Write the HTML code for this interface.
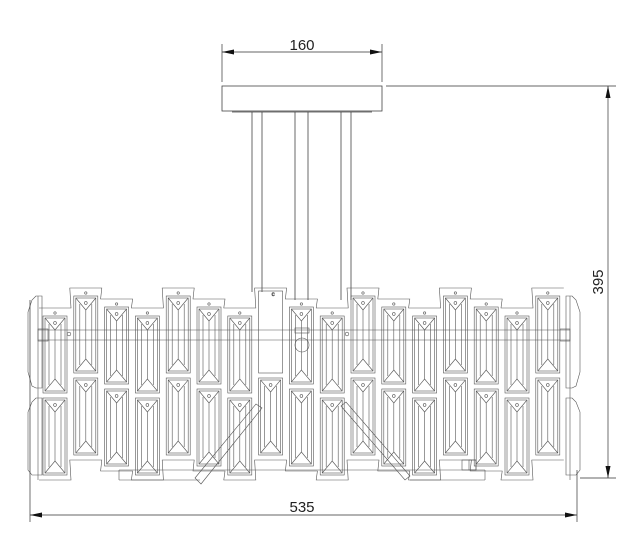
<!DOCTYPE html>
<html><head><meta charset="utf-8"><style>
html,body{margin:0;padding:0;background:#fff;width:626px;height:533px;overflow:hidden}
svg{display:block}
text{font-family:"Liberation Sans",sans-serif;font-size:15px;fill:#222}
</style></head><body>
<svg id="s" width="626" height="533" viewBox="0 0 626 533" xmlns="http://www.w3.org/2000/svg">
<g stroke="#444" stroke-width="0.8" fill="none">
<rect x="222" y="86" width="160" height="25"/>
<line x1="232" y1="112" x2="372" y2="112"/>
<line x1="252" y1="112" x2="252" y2="292"/><line x1="262" y1="112" x2="262" y2="292"/>
<line x1="295" y1="112" x2="295" y2="300"/><line x1="308" y1="112" x2="308" y2="300"/>
<line x1="341" y1="112" x2="341" y2="300"/><line x1="351" y1="112" x2="351" y2="300"/>
</g>
<g id="body" stroke="#555" stroke-width="0.6" fill="none"></g>
<g stroke="#333" stroke-width="0.7" fill="none">
<line x1="222" y1="44" x2="222" y2="82"/><line x1="382" y1="44" x2="382" y2="82"/>
<line x1="222" y1="52" x2="382" y2="52"/>
<line x1="386" y1="86" x2="616" y2="86"/><line x1="580" y1="478" x2="616" y2="478"/>
<line x1="608" y1="86" x2="608" y2="478"/>
<line x1="30" y1="300" x2="30" y2="522"/><line x1="577" y1="470" x2="577" y2="522"/>
<line x1="30" y1="515" x2="577" y2="515"/>
</g>
<g fill="#111">
<polygon points="222,52 234,49.5 234,54.5"/><polygon points="382,52 370,49.5 370,54.5"/>
<polygon points="608,86 605.5,98 610.5,98"/><polygon points="608,478 605.5,466 610.5,466"/>
<polygon points="30,515 42,512.5 42,517.5"/><polygon points="577,515 565,512.5 565,517.5"/>
</g>
<text x="302" y="50" text-anchor="middle">160</text>
<text x="302" y="512" text-anchor="middle">535</text>
<text transform="translate(603,282) rotate(-90)" text-anchor="middle">395</text>
</svg>
<script>
var g=document.getElementById('body'),h='';
function L(a,b,c,d){h+='<line x1="'+a+'" y1="'+b+'" x2="'+c+'" y2="'+d+'"/>';}
function R(x,y,w,hh){h+='<rect x="'+x+'" y="'+y+'" width="'+w+'" height="'+hh+'"/>';}
function crystal(l,t,w,hh,top){
 R(l,t,w,hh);R(l+2,t+2,w-4,hh-4);
 var cx=l+w/2,i=l+2,r=l+w-2,a=t+2,b=t+hh-2;
 L(i,a,cx,a+12);L(r,a,cx,a+12);L(i,b,cx,b-12);L(r,b,cx,b-12);
 L(cx,a+12,cx,b-12);L(i+4,a+6,i+4,b-6);L(r-4,a+6,r-4,b-6);
 h+='<circle cx="'+cx+'" cy="'+(a+5)+'" r="1.4"/>';
 if(top)h+='<circle cx="'+cx+'" cy="'+(t-3)+'" r="1.2"/>';
}
var tops=[316,296,307],pts1=[],pts2=[];
for(var k=0;k<17;k++){
 var cx=55+k*30.8,l=cx-12,t=tops[k%3];
 var tb=t+82;
 if(k==7){R(l,t-5,24,82);h+='<text x="'+(cx+1)+'" y="'+(t)+'" style="font-size:6px">c</text>';}
 else crystal(l,t,24,77,true);
 crystal(l,tb,24,77,false);
 pts1.push([l-4,t-8],[l+28,t-8]);
 pts2.push([l-4,tb+82],[l+28,tb+82]);
}
var s='M'+pts1[0][0]+','+(pts1[0][1]);for(var p of pts1){s+=' L'+p[0]+','+p[1];}
h+='<path d="'+s+'"/>';
s='M'+pts2[0][0]+','+pts2[0][1];for(var p of pts2){s+=' L'+p[0]+','+p[1];}
h+='<path d="'+s+'"/>';
L(38,296,38,480);L(570,296,570,480);
L(38,330,570,330);L(38,340,570,340);
R(38,329,10,12);R(560,329,10,12);
h+='<circle cx="69" cy="334" r="1.8"/><circle cx="347" cy="334" r="1.8"/>';
h+='<circle cx="302" cy="345" r="7"/>';R(295,328,14,5);
h+='<path d="M36,296 L32,300 L28,312 L28,372 L32,386 L36,388 L42,388 L42,296 Z"/>';
h+='<path d="M36,398 L32,402 L28,412 L28,470 L32,475 L42,475 L42,398 Z"/>';
h+='<path d="M572,296 L576,300 L580,312 L580,372 L576,386 L572,388 L566,388 L566,296 Z"/>';
h+='<path d="M572,398 L576,402 L580,412 L580,470 L576,475 L566,475 L566,398 Z"/>';
L(119,470,485,470);L(119,480,200,480);L(119,470,119,480);L(485,470,485,480);L(410,480,485,480);
h+='<path d="M195,478 L256,404 L262,408 L201,484 Z"/>';
h+='<path d="M341,406 L346,402 L410,476 L405,480 Z"/>';
R(462,460,14,10);R(469,460,7,10);
g.innerHTML=h;
</script>
</body></html>
